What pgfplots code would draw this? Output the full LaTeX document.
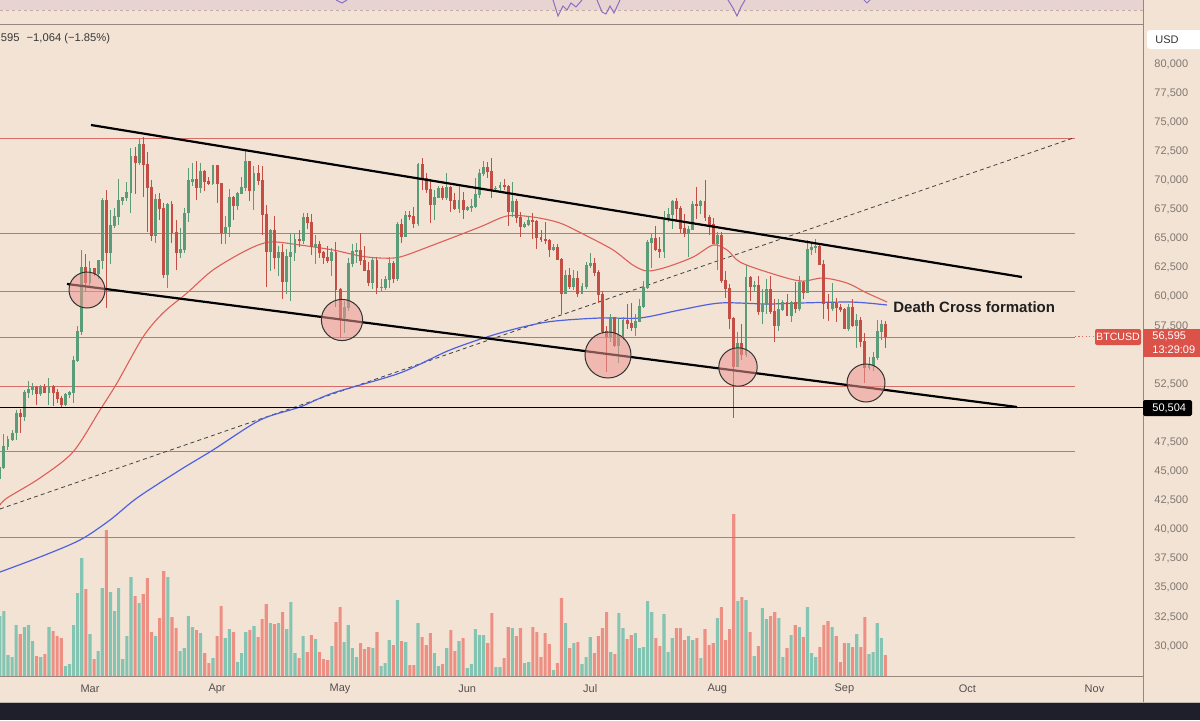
\documentclass[border=0pt]{standalone}
\usepackage{pgfplots}
\pgfplotsset{compat=1.18}
\usepackage{pgfplotstable}
\usepackage{fontspec}
\setmainfont{Liberation Sans}
\definecolor{bg}{RGB}{243,227,213}
\definecolor{pinkband}{RGB}{231,211,209}
\definecolor{dashcol}{RGB}{200,170,165}
\definecolor{sepcol}{RGB}{150,135,128}
\definecolor{darkstrip}{RGB}{30,31,42}
\definecolor{cgreen}{RGB}{90,155,120}
\definecolor{cred}{RGB}{196,78,68}
\definecolor{vgreen}{RGB}{132,196,178}
\definecolor{vred}{RGB}{238,143,132}
\definecolor{hline}{RGB}{214,108,102}
\definecolor{maRed}{RGB}{222,95,88}
\definecolor{maBlue}{RGB}{78,98,222}
\definecolor{circfill}{RGB}{236,150,146}
\definecolor{ytcol}{RGB}{128,118,112}
\definecolor{xtcol}{RGB}{85,80,78}
\definecolor{lblred}{RGB}{218,82,72}
\definecolor{rsi}{RGB}{140,110,195}

\pgfplotstableread{
d o h l c v
-22 44350 45600 44000 45300 60
-21 45300 48200 45200 47150 65
-20 47150 48000 46800 47770 21
-19 47770 48600 47600 48300 19
-18 48300 50300 47700 49960 51
-17 49960 50400 48300 49700 42
-16 49700 52000 49300 51800 49
-15 51800 52800 51300 52000 51
-14 52000 52600 51600 52200 35
-13 52200 52300 50700 51700 20
-12 51700 52400 51500 52200 19
-11 52200 52500 51700 51800 22
-10 51800 53000 50700 52300 49
-9 52300 52400 50600 51800 45
-8 51800 52100 50900 51300 40
-7 51300 51500 50500 50750 38
-6 50750 51700 50600 51600 10
-5 51600 51900 51300 51750 12
-4 51750 54900 50900 54500 51
-3 54500 57500 54400 57050 83
-2 57050 64000 56700 62500 118
-1 62500 63700 60400 61200 87
0 61200 63100 60800 62400 42
1 62400 62500 61800 62000 17
2 62000 63200 61500 63100 25
3 63100 68500 62400 68300 88
4 68300 69200 59000 63800 146
5 63800 67500 62800 66100 84
6 66100 67600 65900 66900 65
7 66900 70100 66200 68300 88
8 68300 68600 67900 68500 17
9 68500 69900 68200 69000 40
10 69000 72800 67200 72100 99
11 72100 72900 68800 71500 80
12 71500 73600 71300 73100 73
13 73100 73750 68600 71400 82
14 71400 72400 65600 69400 98
15 69400 70000 64800 65300 44
16 65300 68800 64600 68400 40
17 68400 68900 66600 67600 58
18 67600 68100 61600 61900 105
19 61900 68100 60800 67900 99
20 67900 68200 64600 65500 59
21 65500 66600 62300 63800 48
22 63800 65900 63300 64100 25
23 64100 67600 63800 67200 28
24 67200 71100 66400 70000 60
25 69900 71500 69500 70100 49
26 70100 71700 68300 69400 46
27 69400 71500 68900 70800 43
28 70800 70900 69100 69900 23
29 69900 70300 69600 69700 13
30 69700 71300 69600 71300 18
31 71300 71300 68100 69700 40
32 69700 69700 64500 65500 70
33 65500 66900 64500 66000 38
34 66000 69300 65100 68500 47
35 68500 68700 66600 67800 44
36 67800 69000 67500 68900 14
37 68900 70300 68800 69400 23
38 69400 72700 69100 71600 44
39 71600 71700 68200 69100 46
40 69100 71200 67500 70600 50
41 70600 71300 69600 70000 39
42 70000 71200 65300 67100 57
43 67100 67900 60800 63900 72
44 63900 65800 62200 65700 53
45 65700 66900 62400 63400 52
46 63400 64400 61800 63800 53
47 63800 64500 59800 61300 64
48 61300 64100 60200 63500 47
49 63500 65400 59600 63800 74
50 63800 65400 63100 64900 23
51 64900 65700 64300 64800 18
52 64800 67200 64500 66800 40
53 66800 67200 65800 66400 24
54 66400 67100 63600 64300 41
55 64300 65300 62800 64500 37
56 64500 64800 63300 63800 24
57 63800 63900 62800 63400 17
58 63400 64400 62900 63100 16
59 63100 64200 61800 63800 30
60 63800 64700 59100 60600 54
61 60600 60800 56500 58200 69
62 58200 59600 56900 59100 34
63 59100 63300 58800 62900 51
64 62900 64500 62600 63900 28
65 63900 64600 62900 64000 19
66 64000 65500 62700 63100 33
67 63100 64400 62200 62300 27
68 62300 63000 60900 61200 29
69 61200 63400 60700 63100 28
70 63100 63400 60200 60800 44
71 60800 61500 60500 60820 10
72 60820 61800 60600 61500 13
73 61500 63400 60800 62900 36
74 62900 63100 61200 61600 31
75 61600 66400 61400 66200 76
76 66200 66700 64600 65200 35
77 65200 67400 65100 67000 34
78 67000 67400 66600 66900 11
79 66900 67700 65900 66300 11
80 66300 71500 66100 71400 53
81 71400 71900 69200 70200 39
82 70200 70600 68900 69200 31
83 69200 70100 66300 67900 43
84 67900 69200 66600 68500 23
85 68500 69500 68500 69300 10
86 69300 69500 68300 68500 12
87 68500 70600 68300 69400 28
88 69400 69500 67300 68300 46
89 68300 68900 67500 67600 25
90 67600 69500 67200 68300 35
91 68300 69000 66700 67500 38
92 67500 67800 67400 67700 8
93 67700 68400 67300 67750 12
94 67750 70200 67600 68800 47
95 68800 71000 68500 70600 41
96 70600 71700 70400 71100 41
97 71100 71600 70200 70800 33
98 70800 71900 68500 69300 63
99 69300 69500 69100 69350 9
100 69350 69900 69100 69600 9
101 69600 70100 69200 69500 18
102 69500 69600 66100 67300 49
103 67300 69900 66900 68200 48
104 68200 68400 66300 66800 40
105 66800 67300 65100 66000 48
106 66000 66400 65900 66200 13
107 66200 66900 66100 66600 14
108 66600 67200 65000 66500 49
109 66500 66600 64100 65100 44
110 65100 65700 64700 64900 19
111 64900 66400 64500 64800 43
112 64800 65000 63400 64100 32
113 64100 64500 63900 64250 6
114 64250 64500 63200 63200 13
115 63200 63300 58500 60300 78
116 60300 62300 60200 61800 53
117 61800 62500 60700 60900 28
118 60900 62300 60600 61600 33
119 61600 62200 60000 60300 34
120 60300 61200 60300 60900 12
121 60900 63000 60700 62700 19
122 62700 63800 62500 62900 39
123 62900 63300 61800 62100 23
124 62100 62300 59500 60200 40
125 60200 60500 56800 57000 48
126 57000 57500 53500 56600 64
127 56600 58500 56100 58200 24
128 58200 58300 55700 55800 22
129 55800 58200 54300 56700 63
130 56700 58300 56300 58000 48
131 58000 59400 57200 57700 37
132 57700 59500 57100 57400 41
133 57400 58500 56600 57900 43
134 57900 59800 57800 59200 28
135 59200 61400 59000 60800 29
136 60800 64900 60700 64700 75
137 64700 65400 62500 65000 64
138 65000 66100 63900 64100 38
139 64100 65100 63300 63900 30
140 63900 67400 63300 66600 62
141 66600 67600 66400 67100 24
142 67100 68300 65800 68200 38
143 68200 68500 66600 67600 48
144 67600 67800 65500 65900 48
145 65900 67100 65100 65400 36
146 65400 66100 63400 65800 40
147 65800 68200 65800 67900 36
148 67900 69400 66700 67800 38
149 67800 68300 67100 68200 18
150 68200 70000 66500 66800 47
151 66800 67000 65300 66200 31
152 66200 66800 64500 64600 33
153 64600 65600 62300 65300 58
154 65300 65600 61200 61400 69
155 61400 62200 59900 60700 36
156 60700 61100 57200 58100 47
157 58100 58300 49600 54000 162
158 54000 57000 54000 56000 75
159 56000 57700 54600 55000 79
160 55000 62700 54800 61700 76
161 61700 61800 59600 60900 44
162 60900 61400 60400 60950 20
163 60950 61800 58400 58700 30
164 58700 60700 57700 59300 68
165 59300 61500 58500 60600 57
166 60600 61800 58500 58700 60
167 58700 59800 56100 57500 64
168 57500 59800 57100 58900 58
169 58900 59700 58800 59500 19
170 59500 60200 58400 58400 28
171 58400 59600 57800 59500 41
172 59500 61300 58600 59000 51
173 59000 61800 58800 61200 49
174 61200 61400 59800 60400 39
175 60400 64900 60300 64100 69
176 64100 64500 63600 64200 23
177 64200 65000 63800 64300 19
178 64300 64500 62800 62800 29
179 62800 63200 58100 59400 51
180 59400 60200 57900 59000 55
181 59000 61200 58800 59400 49
182 59400 59900 57800 59100 40
183 59100 59400 58700 58900 14
184 58900 59000 57200 57300 33
185 57300 59400 57100 59100 33
186 59100 59800 57400 57500 29
187 57500 58500 55600 58000 42
188 58000 58300 55700 56200 29
189 56200 56900 52600 53900 59
190 53900 54800 53700 54100 22
191 54100 55300 53600 54800 24
192 54800 58000 54600 57000 53
193 57000 58000 56300 57650 38
194 57650 57900 55600 56595 21
}\data

\begin{document}
\begin{tikzpicture}
\useasboundingbox (0pt,0pt) rectangle (600pt,360pt);
\fill[bg] (0pt,0pt) rectangle (600pt,360pt);
\fill[pinkband] (0pt,355pt) rectangle (571.5pt,360pt);
\draw[dashcol, dash pattern=on 1.5pt off 1.5pt, line width=0.4pt] (0pt,355pt) -- (571.5pt,355pt);
\fill[darkstrip] (0pt,0pt) rectangle (600pt,9pt);

% RSI fragments in top strip (pixel units)
\begin{axis}[at={(0pt,348pt)}, anchor=south west, scale only axis,
  width=571.5pt, height=12pt, xmin=0, xmax=1143, ymin=0, ymax=24,
  y dir=reverse, hide axis, clip=true, scaled ticks=false]
\addplot[rsi, line width=0.5pt] coordinates {(336,0) (342,3) (347,0)};
\addplot[rsi, line width=0.5pt] coordinates {(553,0) (558,16) (563,6) (567,10) (571,3) (576,7) (582,0)};
\addplot[rsi, line width=0.5pt] coordinates {(597,0) (602,12) (606,14) (610,6) (614,13) (620,0)};
\addplot[rsi, line width=0.5pt] coordinates {(728,0) (733,8) (737,16) (741,7) (745,0)};
\addplot[rsi, line width=0.5pt] coordinates {(864,0) (867,3) (870,0)};
\end{axis}

% Volume
\begin{axis}[at={(0pt,22pt)}, anchor=south west, scale only axis,
  width=571.5pt, height=326pt, xmin=-21.95, xmax=256.83, ymin=0, ymax=652,
  hide axis, clip=true, scaled ticks=false]
\addplot[ybar, bar shift=0pt, bar width=1.55pt, fill=vgreen, draw=none]
  table[x=d, y expr={\thisrow{c}>=\thisrow{o} ? \thisrow{v} : nan}] {\data};
\addplot[ybar, bar shift=0pt, bar width=1.55pt, fill=vred, draw=none]
  table[x=d, y expr={\thisrow{c}<\thisrow{o} ? \thisrow{v} : nan}] {\data};
\end{axis}

% Main price axis
\begin{axis}[at={(0pt,22pt)}, anchor=south west, scale only axis,
  width=571.5pt, height=326pt, xmin=-21.95, xmax=256.83, ymin=27423, ymax=83436,
  axis line style={draw=none}, tick style={draw=none}, major tick length=0pt,
  clip=true, scaled ticks=false,
  yticklabel pos=right,
  ytick={30000,32500,35000,37500,40000,42500,45000,47500,52500,57500,60000,62500,65000,67500,70000,72500,75000,77500,80000},
  yticklabels={{30,000},{32,500},{35,000},{37,500},{40,000},{42,500},{45,000},{47,500},{52,500},{57,500},{60,000},{62,500},{65,000},{67,500},{70,000},{72,500},{75,000},{77,500},{80,000}},
  y tick label style={font=\fontsize{5.5}{6}\selectfont, text=ytcol, anchor=west, xshift=2.2pt},
  xtick={0,31,61,92,122,153,184,214,245},
  xticklabels={Mar,Apr,May,Jun,Jul,Aug,Sep,Oct,Nov},
  x tick label style={font=\fontsize{5.5}{6}\selectfont, text=xtcol, anchor=center, yshift=-6.5pt},
]
% horizontal levels
\addplot[hline, line width=0.45pt] coordinates {(-21.95,73643) (240.2,73643)};
\addplot[hline, line width=0.45pt] coordinates {(-21.95,65481) (240.2,65481)};
\addplot[hline, line width=0.45pt] coordinates {(-21.95,60498) (240.2,60498)};
\addplot[hline, line width=0.45pt] coordinates {(-21.95,56546) (240.2,56546)};
\addplot[hline, line width=0.45pt] coordinates {(-21.95,52337) (240.2,52337)};
\addplot[hline, line width=0.45pt] coordinates {(-21.95,46753) (240.2,46753)};
\addplot[hline, line width=0.45pt] coordinates {(-21.95,39365) (240.2,39365)};
\addplot[hline, line width=0.4pt, dash pattern=on 0.6pt off 1.2pt] coordinates {(240.2,56595) (256.83,56595)};
% dashed trend
\addplot[black!75, line width=0.4pt, dash pattern=on 2pt off 1.6pt] coordinates {(-21.95,41770) (239.8,73643)};
% moving averages
\addplot[maRed, line width=0.55pt, smooth] coordinates {(-21.95,42114) (-20.24,42715) (-12.2,44433) (-4.15,46667) (2.44,50275) (6.59,52595) (12.93,56547) (17.8,58608) (23.66,60327) (30.0,62303) (38.3,64021) (43.9,64708) (51.2,64450) (59.3,64021) (65.9,63505) (70.7,63333) (75.6,63419) (83.7,64450) (95.1,65997) (101.7,66942) (108.0,66855) (114.6,66340) (121.2,65223) (127.6,64021) (132.4,62732) (135.9,62217) (140.7,62560) (147.1,63419) (152.0,64450) (155.4,64021) (158.5,62990) (165.1,62131) (173.2,61358) (178.8,61615) (184.6,61186) (189.5,60327) (194.4,59553)};
\addplot[maBlue, line width=0.6pt, smooth] coordinates {(-21.95,36358) (-12.2,37646) (-2.44,39107) (4.88,40825) (11.46,42715) (21.95,45121) (30.0,46839) (41.5,49416) (51.2,50533) (59.3,51736) (75.6,53454) (87.8,55430) (100.0,56890) (111.5,57835) (124.4,58179) (134.1,58179) (143.9,58866) (153.7,59468) (165.1,59382) (173.2,59468) (184.6,59553) (189.5,59468) (194.4,59296)};
% candles: wicks
\addplot[draw=none, mark=none, error bars/.cd, y dir=both, y explicit, error mark=none,
  error bar style={draw=cgreen, line width=0.5pt}]
  table[x=d, y expr={\thisrow{c}>=\thisrow{o} ? (\thisrow{h}+\thisrow{l})/2 : nan}, y error expr={(\thisrow{h}-\thisrow{l})/2}] {\data};
\addplot[draw=none, mark=none, error bars/.cd, y dir=both, y explicit, error mark=none,
  error bar style={draw=cred, line width=0.5pt}]
  table[x=d, y expr={\thisrow{c}<\thisrow{o} ? (\thisrow{h}+\thisrow{l})/2 : nan}, y error expr={(\thisrow{h}-\thisrow{l})/2}] {\data};
% candles: bodies
\addplot[draw=none, mark=none, error bars/.cd, y dir=both, y explicit, error mark=none,
  error bar style={draw=cgreen, line width=1.45pt}]
  table[x=d, y expr={\thisrow{c}>=\thisrow{o} ? (\thisrow{o}+\thisrow{c})/2 : nan}, y error expr={abs(\thisrow{c}-\thisrow{o})/2+40}] {\data};
\addplot[draw=none, mark=none, error bars/.cd, y dir=both, y explicit, error mark=none,
  error bar style={draw=cred, line width=1.45pt}]
  table[x=d, y expr={\thisrow{c}<\thisrow{o} ? (\thisrow{o}+\thisrow{c})/2 : nan}, y error expr={abs(\thisrow{c}-\thisrow{o})/2+40}] {\data};
% channel lines
\addplot[black, line width=1.1pt] coordinates {(0.24,74760) (227.3,61701)};
\addplot[black, line width=1.1pt] coordinates {(-5.61,61100) (226.1,50533)};
\addplot[black, line width=0.75pt] coordinates {(-21.95,50504) (256.83,50504)};
% circles
\addplot[only marks, mark=*, mark size=9pt, mark options={fill=circfill, fill opacity=0.55, draw=black!80, line width=0.5pt}] coordinates {(-0.73,60584)};
\addplot[only marks, mark=*, mark size=10.3pt, mark options={fill=circfill, fill opacity=0.55, draw=black!80, line width=0.5pt}] coordinates {(61.46,58007)};
\addplot[only marks, mark=*, mark size=11.5pt, mark options={fill=circfill, fill opacity=0.55, draw=black!80, line width=0.5pt}] coordinates {(126.34,55000)};
\addplot[only marks, mark=*, mark size=9.6pt, mark options={fill=circfill, fill opacity=0.55, draw=black!80, line width=0.5pt}] coordinates {(158.05,53969)};
\addplot[only marks, mark=*, mark size=9.5pt, mark options={fill=circfill, fill opacity=0.55, draw=black!80, line width=0.5pt}] coordinates {(189.27,52595)};
\end{axis}

% frame lines
\draw[sepcol, line width=0.5pt] (0pt,348pt) -- (571.5pt,348pt);
\draw[sepcol, line width=0.5pt] (0pt,22pt) -- (571.5pt,22pt);
\draw[sepcol, line width=0.5pt] (571.5pt,9pt) -- (571.5pt,360pt);
\draw[sepcol!60, line width=0.4pt] (0pt,9pt) -- (600pt,9pt);

% texts and labels
\node[anchor=west, inner sep=0pt, font=\fontsize{5.6}{6.5}\selectfont, text=black!78] at (0.3pt,340.5pt) {595\hspace{3.5pt}−1,064 (−1.85\%)};
\fill[white, rounded corners=1.5pt] (573.5pt,335.5pt) rectangle (606pt,345pt);
\node[anchor=west, inner sep=0pt, font=\fontsize{5.5}{6}\selectfont, text=black!80] at (577.5pt,340.2pt) {USD};
\node[anchor=west, inner sep=0pt, font=\bfseries\fontsize{7.5}{8}\selectfont, text=black!88] at (446.5pt,206.5pt) {Death Cross formation};
\fill[lblred, rounded corners=1pt] (547.5pt,187.5pt) rectangle (570.5pt,195.5pt);
\node[anchor=center, inner sep=0pt, font=\fontsize{5.3}{6}\selectfont, text=white] at (559pt,191.5pt) {BTCUSD};
\fill[lblred] (571.5pt,181.5pt) rectangle (600pt,195.5pt);
\node[anchor=west, inner sep=0pt, font=\fontsize{5.5}{6}\selectfont, text=white] at (576pt,192pt) {56,595};
\node[anchor=west, inner sep=0pt, font=\fontsize{5.5}{6}\selectfont, text=white] at (576pt,185.3pt) {13:29:09};
\fill[black, rounded corners=0.8pt] (571.5pt,152pt) rectangle (596pt,160pt);
\node[anchor=west, inner sep=0pt, font=\fontsize{5.5}{6}\selectfont, text=white] at (576pt,156pt) {50,504};
\end{tikzpicture}
\end{document}
